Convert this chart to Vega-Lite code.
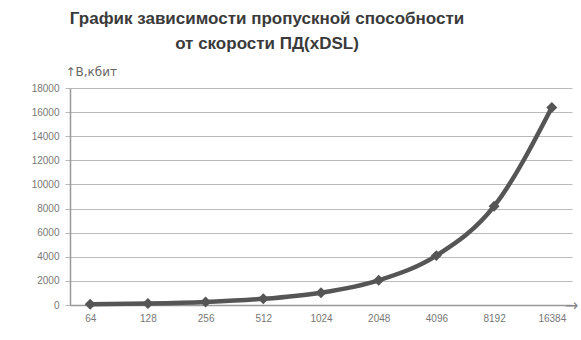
{
  "$schema": "https://vega.github.io/schema/vega-lite/v6.json",
  "width": 502,
  "height": 217,
  "autosize": {"type": "none"},
  "padding": {"left": 70, "top": 88, "right": 9, "bottom": 35},
  "background": "white",
  "title": {
    "text": ["График зависимости пропускной способности", "от скорости  ПД(xDSL)"],
    "font": "Liberation Sans",
    "fontSize": 17,
    "fontWeight": "bold",
    "color": "#3a3a3a",
    "anchor": "middle",
    "frame": "group",
    "baseline": "top",
    "dx": -54,
    "dy": -12,
    "offset": 0,
    "lineHeight": 25
  },
  "data": {
    "values": [
      {"speed": "64", "b": 64},
      {"speed": "128", "b": 128},
      {"speed": "256", "b": 256},
      {"speed": "512", "b": 512},
      {"speed": "1024", "b": 1024},
      {"speed": "2048", "b": 2048},
      {"speed": "4096", "b": 4096},
      {"speed": "8192", "b": 8192},
      {"speed": "16384", "b": 16384}
    ]
  },
  "encoding": {
    "x": {
      "field": "speed",
      "type": "ordinal",
      "sort": null,
      "scale": {"type": "point", "padding": 0.35},
      "axis": {
        "title": "→",
        "titleFont": "DejaVu Sans",
        "titleFontSize": 16,
        "titleColor": "#888",
        "titleFontWeight": "normal",
        "titleAlign": "right",
        "titleBaseline": "middle",
        "titleAngle": 0,
        "titleX": 508,
        "titleY": 0,
        "labelAngle": 0,
        "labelFont": "Liberation Sans",
        "labelFontSize": 10,
        "labelColor": "#777",
        "labelPadding": 8,
        "domainColor": "#999",
        "domainWidth": 1.5,
        "ticks": false,
        "grid": false
      }
    },
    "y": {
      "field": "b",
      "type": "quantitative",
      "scale": {"domain": [0, 18000]},
      "axis": {
        "values": [0, 2000, 4000, 6000, 8000, 10000, 12000, 14000, 16000, 18000],
        "format": "d",
        "title": "↑B,кбит",
        "titleFont": "DejaVu Sans",
        "titleFontSize": 12,
        "titleFontWeight": "normal",
        "titleColor": "#666",
        "titleAngle": 0,
        "titleAlign": "left",
        "titleBaseline": "bottom",
        "titleX": -5,
        "titleY": -10,
        "labelFont": "Liberation Sans",
        "labelFontSize": 10,
        "labelColor": "#777",
        "labelPadding": 6,
        "tickColor": "#bbb",
        "tickSize": 5,
        "gridColor": "#bbb",
        "gridWidth": 1,
        "domainColor": "#999",
        "domainWidth": 1.5
      }
    }
  },
  "layer": [
    {
      "mark": {"type": "line", "interpolate": "monotone", "color": "#555", "strokeWidth": 4.5}
    },
    {
      "mark": {"type": "point", "shape": "diamond", "filled": true, "color": "#555", "size": 120, "opacity": 1}
    }
  ],
  "config": {"view": {"stroke": null}}
}
